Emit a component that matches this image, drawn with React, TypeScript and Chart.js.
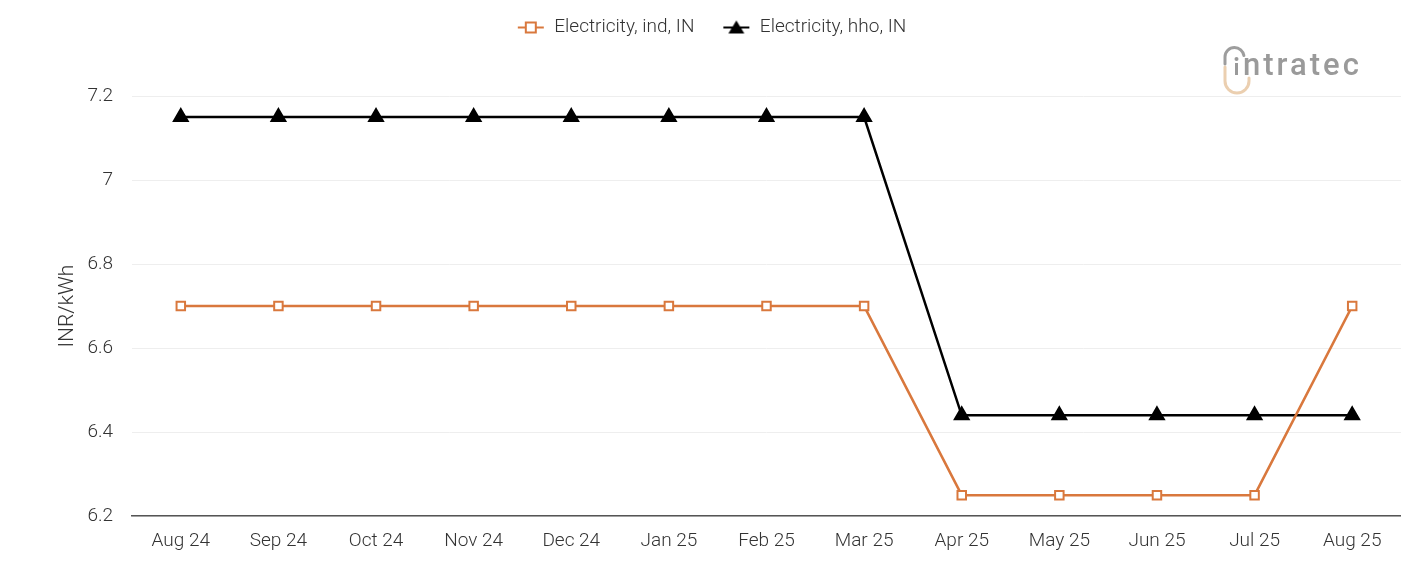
import React, { useEffect, useRef } from "react";
import { Chart, registerables } from "chart.js";

Chart.register(...registerables);

const categories = ["Aug 24", "Sep 24", "Oct 24", "Nov 24", "Dec 24", "Jan 25", "Feb 25", "Mar 25", "Apr 25", "May 25", "Jun 25", "Jul 25", "Aug 25"];
const industrial = [6.7, 6.7, 6.7, 6.7, 6.7, 6.7, 6.7, 6.7, 6.25, 6.25, 6.25, 6.25, 6.7];
const household = [7.15, 7.15, 7.15, 7.15, 7.15, 7.15, 7.15, 7.15, 6.44, 6.44, 6.44, 6.44, 6.44];
const seriesNames = ["Electricity, ind, IN", "Electricity, hho, IN"];
const yTitle = "INR/kWh";
const yMin = 6.2;
const yMax = 7.2;
const yStep = 0.2;

const ORANGE = "#D9783D";
const BLACK = "#000000";
const FONT = "Roboto, 'Noto Sans', sans-serif";
const TEXT = "#333333";

function legendIcon(kind: "square" | "triangle", color: string): HTMLCanvasElement {
  const c = document.createElement("canvas");
  c.width = 28;
  c.height = 16;
  const ctx = c.getContext("2d")!;
  ctx.strokeStyle = color;
  ctx.lineWidth = 2;
  ctx.beginPath();
  ctx.moveTo(1, 8);
  ctx.lineTo(27, 8);
  ctx.stroke();
  if (kind === "square") {
    ctx.fillStyle = "#fff";
    ctx.fillRect(9, 3, 10, 10);
    ctx.strokeRect(9, 3, 10, 10);
  } else {
    ctx.fillStyle = color;
    ctx.beginPath();
    ctx.moveTo(14, 1);
    ctx.lineTo(22, 14);
    ctx.lineTo(6, 14);
    ctx.closePath();
    ctx.fill();
  }
  return c;
}

const legendSpacer = {
  id: "legendSpacer",
  beforeInit(chart: any) {
    const origFit = chart.legend.fit;
    chart.legend.fit = function () {
      origFit.call(this);
      this.height += 49;
    };
  },
};

const logoPlugin = {
  id: "logo",
  afterDraw(chart: any) {
    const ctx = chart.ctx;
    ctx.save();
    ctx.lineCap = "round";
    // grey arc
    ctx.strokeStyle = "#9d9d9d";
    ctx.lineWidth = 3;
    ctx.beginPath();
    ctx.moveTo(1225, 64);
    ctx.lineTo(1225, 57);
    ctx.arc(1234.5, 57, 9.5, Math.PI, 2 * Math.PI - 0.15);
    ctx.stroke();
    // beige arc
    ctx.strokeStyle = "#ebcfb0";
    ctx.beginPath();
    ctx.moveTo(1225, 67);
    ctx.lineTo(1225, 81);
    ctx.arc(1237, 81, 12, Math.PI, 0, true);
    ctx.lineTo(1249, 78);
    ctx.stroke();
    // the "i"
    ctx.fillStyle = "#9a9a9a";
    ctx.beginPath();
    ctx.arc(1236.5, 59, 2, 0, 2 * Math.PI);
    ctx.fill();
    ctx.fillRect(1235, 63, 3, 12);
    ctx.font = `500 31px ${FONT}`;
    (ctx as any).letterSpacing = "3px";
    ctx.textBaseline = "alphabetic";
    ctx.fillText("ntratec", 1243, 75);
    ctx.restore();
  },
};

export default function App() {
  const ref = useRef<HTMLCanvasElement | null>(null);
  useEffect(() => {
    if (!ref.current) return;
    const icons = [legendIcon("square", ORANGE), legendIcon("triangle", BLACK)];
    const chart = new Chart(ref.current, {
      type: "line",
      data: {
        labels: categories,
        datasets: [
          {
            label: seriesNames[0],
            data: industrial,
            borderColor: ORANGE,
            backgroundColor: "#ffffff",
            borderWidth: 2.5,
            pointStyle: "rect",
            pointRadius: 6,
            pointBorderWidth: 2,
            pointBackgroundColor: "#ffffff",
            pointBorderColor: ORANGE,
            tension: 0,
          },
          {
            label: seriesNames[1],
            data: household,
            borderColor: BLACK,
            backgroundColor: BLACK,
            borderWidth: 2.5,
            pointStyle: "triangle",
            pointRadius: 7.5,
            pointBackgroundColor: BLACK,
            pointBorderColor: BLACK,
            tension: 0,
          },
        ],
      },
      options: {
        animation: false,
        responsive: true,
        maintainAspectRatio: false,
        layout: { autoPadding: false, padding: { left: 22, right: 0, top: -10, bottom: 2 } },
        plugins: {
          legend: {
            position: "top",
            labels: {
              usePointStyle: true,
              pointStyleWidth: 28,
              padding: 28,
              color: TEXT,
              font: { family: FONT, size: 19, weight: "300" },
              generateLabels: (ch: any) =>
                ch.data.datasets.map((d: any, i: number) => ({
                  text: d.label,
                  pointStyle: icons[i],
                  fillStyle: "transparent",
                  strokeStyle: "transparent",
                  lineWidth: 0,
                  datasetIndex: i,
                  fontColor: TEXT,
                })),
            },
          },
          tooltip: { enabled: false },
        },
        scales: {
          x: {
            offset: true,
            grid: { display: false },
            border: { display: true, color: "#555", width: 1.5 },
            ticks: { color: TEXT, font: { family: FONT, size: 19, weight: "300" }, padding: 6, maxRotation: 0 },
            afterFit: (s: any) => {
              s.paddingLeft = 0;
              s.paddingRight = 0;
            },
          },
          y: {
            min: yMin,
            max: yMax,
            grid: { color: "#eeeeee", lineWidth: 1, drawTicks: false },
            border: { display: false },
            title: { display: true, text: yTitle, color: TEXT, font: { family: FONT, size: 21, weight: "300" }, padding: { top: 33, bottom: 0 } },
            ticks: {
              stepSize: yStep,
              padding: 19,
              color: TEXT,
              font: { family: FONT, size: 19, weight: "300" },
              callback: (v: any) => String(parseFloat(Number(v).toFixed(2))),
            },
            afterFit: (s: any) => {
              s.width = 110;
            },
          },
        },
      },
      plugins: [legendSpacer, logoPlugin],
    });
    return () => chart.destroy();
  }, []);
  return (
    <div style={{ position: "absolute", left: 0, top: 0, width: 1401, height: 561, background: "#fff" }}>
      <canvas ref={ref} />
    </div>
  );
}
